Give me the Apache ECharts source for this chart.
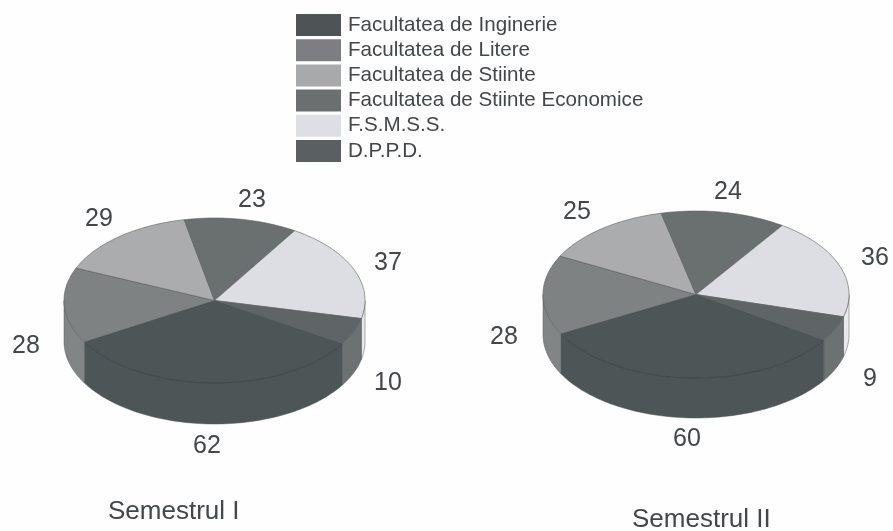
<!DOCTYPE html>
<html><head><meta charset="utf-8">
<style>html,body{margin:0;padding:0;background:#fefefe}#c{width:893px;height:531px}</style>
<script src="https://cdn.jsdelivr.net/npm/echarts@6/dist/echarts.min.js"></script>
</head><body><div id="c"></div>
<script>
const categories = ['Facultatea de Inginerie','Facultatea de Litere','Facultatea de Stiinte','Facultatea de Stiinte Economice','F.S.M.S.S.','D.P.P.D.'];
const semesterI = [62,28,29,23,37,10];
const semesterII = [60,28,25,24,36,9];
const semesterNames = ['Semestrul I','Semestrul II'];

const topColors = ['#4e5556','#7f8283','#aaacae','#6a6f70','#dddee3','#5f6566'];
const sideColors = ['#4e5556','#828586','#a8aaac','#6a6f70','#e8e9ec','#6c7171'];
const legendColors = ['#4e5355','#7c7e81','#a8a9ab','#6b6f70','#dedfe4','#5a6061'];
const pies = [
  {values:semesterI, cx:214.5, cy:300.5, rx:150.5, ry:82.5, depth:41, start:121.7,
   labels:[[207,446],[26,346],[99,219],[252,200],[388,263],[388,383]]},
  {values:semesterII, cx:696, cy:294.5, rx:153, ry:83.5, depth:40, start:123.3,
   labels:[[687,439],[504,337],[577,212],[728,192],[875,258],[870,379]]}
];
const INK = '#43474a';

function pt(p, deg, dy){
  const a = deg*Math.PI/180;
  return [p.cx+p.rx*Math.sin(a), p.cy-p.ry*Math.cos(a)+(dy||0)];
}
function arc(p, a0, a1, dy){
  const out=[], n=Math.max(2,Math.ceil(Math.abs(a1-a0)/1.5));
  for(let i=0;i<=n;i++) out.push(pt(p,a0+(a1-a0)*i/n,dy));
  return out;
}
function renderSlice(params, api){
  const cat = params.seriesIndex, pieIdx = params.dataIndex;
  const p = pies[pieIdx], v = api.value(0);
  const total = p.values.reduce((s,x)=>s+x,0);
  const before = p.values.slice(0,cat).reduce((s,x)=>s+x,0);
  const a0 = p.start+before/total*360, a1 = a0+v/total*360;
  const children=[];
  [0,360].forEach(shift=>{
    const s=Math.max(a0,90+shift), e=Math.min(a1,270+shift);
    if(e>s){
      const up=arc(p,s,e,0), low=arc(p,e,s,p.depth);
      children.push({type:'polygon',shape:{points:up.concat(low)},
        style:{fill:sideColors[cat],stroke:'#555a5b',lineWidth:0.5}});
    }
  });
  children.push({type:'polygon',shape:{points:[[p.cx,p.cy]].concat(arc(p,a0,a1,0))},
    style:{fill:topColors[cat],stroke:cat===0?'#3f4546':'#5b6061',lineWidth:cat===0?1:0.6}});
  const l=p.labels[cat];
  children.push({type:'text',x:l[0],y:l[1],
    style:{text:String(v),font:'25px "Liberation Sans", Arial, sans-serif',fill:INK,align:'center',verticalAlign:'middle'}});
  return {type:'group',children};
}
const chart = echarts.init(document.getElementById('c'),null,{renderer:'canvas'});
chart.setOption({
  animation:false,
  backgroundColor:'#fefefe',
  title:[
    {text:semesterNames[0],left:103,top:494,textStyle:{fontFamily:'Liberation Sans',fontWeight:'normal',fontSize:26,color:INK}},
    {text:semesterNames[1],left:627,top:502,textStyle:{fontFamily:'Liberation Sans',fontWeight:'normal',fontSize:26,color:INK}}
  ],
  legend:{
    orient:'vertical',left:296,top:14,itemWidth:45,itemHeight:22,itemGap:3.2,padding:0,
    icon:'rect',selectedMode:false,data:categories,
    textStyle:{fontFamily:'Liberation Sans',fontSize:20.6,color:INK,padding:[0,0,0,2]}
  },
  series:categories.map((name,i)=>({
    type:'custom',name,coordinateSystem:'none',silent:true,clip:false,
    itemStyle:{color:legendColors[i]},
    renderItem:renderSlice,
    data:[[semesterI[i]],[semesterII[i]]],
    encode:{value:0}
  }))
});
</script></body></html>
